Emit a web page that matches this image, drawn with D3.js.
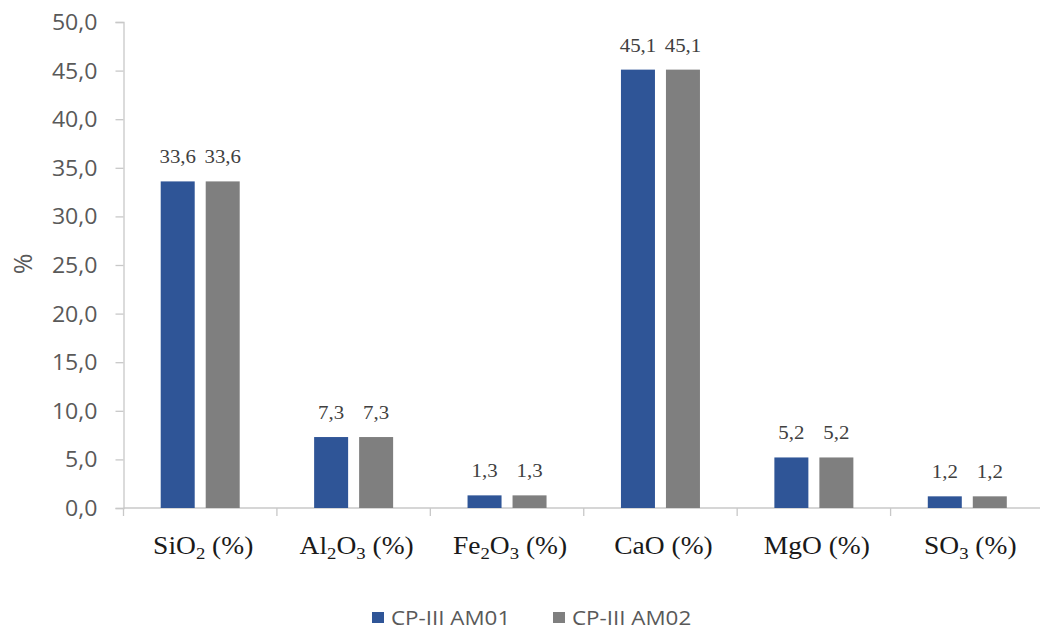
<!DOCTYPE html>
<html>
<head>
<meta charset="utf-8">
<script src="https://cdn.jsdelivr.net/npm/d3@7"></script>
<style>
  html, body { margin: 0; padding: 0; background: #fff; }
  svg { display: block; }
</style>
</head>
<body>
<svg id="chart" width="1040" height="630"></svg>
<script>
// Oxide composition of two CP-III cement samples
const categories = [
  { base: "SiO", sub: "2", rest: "" },
  { base: "Al", sub: "2", rest: "O", sub2: "3" },
  { base: "Fe", sub: "2", rest: "O", sub2: "3" },
  { base: "CaO" },
  { base: "MgO" },
  { base: "SO", sub: "3", rest: "" }
];
const seriesNames = ["CP-III AM01", "CP-III AM02"];
const seriesColors = ["#2F5597", "#7F7F7F"];
const am01 = [33.6, 7.3, 1.3, 45.1, 5.2, 1.2];
const am02 = [33.6, 7.3, 1.3, 45.1, 5.2, 1.2];
const yTicks = [0, 5, 10, 15, 20, 25, 30, 35, 40, 45, 50];

const svg = d3.select("#chart");
const X0 = 123.5, X1 = 1044, Y0 = 508, Y1 = 22;

const fmt = v => v.toFixed(1).replace(".", ",");

const x = d3.scaleBand().domain(d3.range(categories.length)).range([X0, X1]).paddingInner(0).paddingOuter(0);
const y = d3.scaleLinear().domain([0, 50]).range([Y0, Y1]);

// y axis
const yAxis = svg.append("g").attr("transform", `translate(${X0},0)`)
  .call(d3.axisLeft(y).tickValues(yTicks).tickSize(8).tickFormat(fmt));
yAxis.select(".domain").attr("stroke", "#c8c8c8").attr("stroke-width", 1.3);
yAxis.selectAll(".tick line").attr("stroke", "#c8c8c8").attr("stroke-width", 1.3);
yAxis.selectAll(".tick text")
  .attr("fill", "#595959")
  .attr("font-family", "'Open Sans', sans-serif")
  .attr("font-size", 21)
  .attr("x", 0).attr("dy", "0.36em")
  .attr("transform", "translate(-26,0) scale(1.1,1)");

// x axis with ticks at category boundaries
const xg = svg.append("g");
xg.append("line").attr("x1", X0).attr("x2", X1).attr("y1", Y0).attr("y2", Y0)
  .attr("stroke", "#c8c8c8").attr("stroke-width", 1.3);
xg.selectAll("line.tk").data(d3.range(categories.length + 1)).join("line")
  .attr("class", "tk")
  .attr("x1", i => X0 + i * x.bandwidth()).attr("x2", i => X0 + i * x.bandwidth())
  .attr("y1", Y0).attr("y2", Y0 + 8)
  .attr("stroke", "#c8c8c8").attr("stroke-width", 1.3);

// grouped bars with value labels
const data = [am01, am02];
const barW = 34, gap = 11;
const groupW = barW * 2 + gap;
const bars = svg.append("g");
data.forEach((vals, s) => {
  bars.selectAll(null).data(vals).join("rect")
    .attr("x", (d, i) => x(i) + (x.bandwidth() - groupW) / 2 + s * (barW + gap))
    .attr("y", d => y(d))
    .attr("width", barW)
    .attr("height", d => y(0) - y(d))
    .attr("fill", seriesColors[s]);
  bars.selectAll(null).data(vals).join("text")
    .attr("transform", (d, i) => {
      const cx = x(i) + (x.bandwidth() - groupW) / 2 + s * (barW + gap) + barW / 2;
      return `translate(${cx},${y(d) - 18}) scale(1.1,1)`;
    })
    .attr("text-anchor", "middle")
    .attr("font-family", "'Liberation Serif', serif")
    .attr("font-size", 19)
    .attr("fill", "#404040")
    .text(d => fmt(d));
});

// category labels with subscripts
const cat = svg.append("g");
categories.forEach((c, i) => {
  const t = cat.append("text")
    .attr("transform", `translate(${x(i) + x.bandwidth() / 2 + 3},554) scale(1.1,1)`)
    .attr("text-anchor", "middle")
    .attr("font-family", "'Liberation Serif', 'Times New Roman', serif")
    .attr("font-size", 25)
    .attr("fill", "#1a1a1a");
  t.append("tspan").text(c.base);
  if (c.sub) t.append("tspan").attr("font-size", 17).attr("dy", 5).text(c.sub);
  if (c.sub2) {
    t.append("tspan").attr("dy", -5).text(c.rest);
    t.append("tspan").attr("font-size", 17).attr("dy", 5).text(c.sub2);
    t.append("tspan").attr("dy", -5).text(" (%)");
  } else if (c.sub) {
    t.append("tspan").attr("dy", -5).text(" (%)");
  } else {
    t.append("tspan").text(" (%)");
  }
});

// y axis title
svg.append("text")
  .attr("transform", "translate(32,264) rotate(-90)")
  .attr("text-anchor", "middle")
  .attr("font-family", "'Open Sans', sans-serif")
  .attr("font-size", 25)
  .attr("fill", "#595959")
  .text("%");

// legend
const legendX = [372, 553];
const lg = svg.append("g");
seriesNames.forEach((n, s) => {
  lg.append("rect").attr("x", legendX[s]).attr("y", 612).attr("width", 12).attr("height", 11)
    .attr("fill", seriesColors[s]);
  lg.append("text")
    .attr("transform", `translate(${legendX[s] + 19},625) scale(1.12,1)`)
    .attr("font-family", "'Open Sans', sans-serif")
    .attr("font-size", 20)
    .attr("fill", "#595959")
    .text(n);
});
</script>
</body>
</html>
